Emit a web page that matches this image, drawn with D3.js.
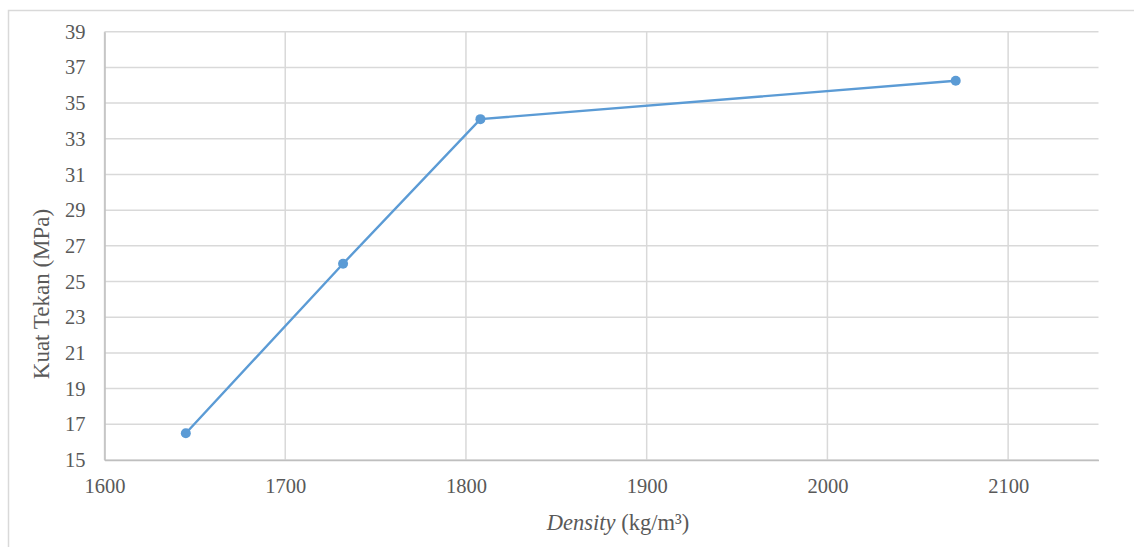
<!DOCTYPE html>
<html>
<head>
<meta charset="utf-8">
<script src="https://cdn.jsdelivr.net/npm/d3@7"></script>
<style>
  html, body { margin: 0; padding: 0; background: #fff; }
  svg { display: block; }
</style>
</head>
<body>
<svg id="chart" width="1134" height="547"></svg>
<script>
// Density (kg/m³) versus compressive strength (MPa)
const density = [1645, 1732, 1808, 2071];
const kuatTekan = [16.5, 26.0, 34.1, 36.25];
const xTicks = [1600, 1700, 1800, 1900, 2000, 2100];
const yTicks = [15, 17, 19, 21, 23, 25, 27, 29, 31, 33, 35, 37, 39];

const FONT = "'Liberation Serif', 'Times New Roman', serif";
const TEXT = "#595959";

const svg = d3.select("#chart");
const W = 1134, H = 547;
const margin = { left: 104.5, right: W - 1098.5, top: 31.7, bottom: H - 460 };

// outer chart frame
svg.append("rect")
  .attr("x", 8.5).attr("y", 10.5)
  .attr("width", 1140).attr("height", 560)
  .attr("fill", "#fff").attr("stroke", "#d9d9d9").attr("stroke-width", 1.5);

const x = d3.scaleLinear().domain([1600, 2150]).range([margin.left, W - margin.right]);
const y = d3.scaleLinear().domain([15, 39]).range([H - margin.bottom, margin.top]);

// gridlines
const grid = svg.append("g").attr("stroke", "#d9d9d9").attr("stroke-width", 1.5);
grid.selectAll("line.h").data(yTicks).join("line")
  .attr("x1", x(1600)).attr("x2", x(2150))
  .attr("y1", d => y(d)).attr("y2", d => y(d));
grid.selectAll("line.v").data(xTicks).join("line")
  .attr("x1", d => x(d)).attr("x2", d => x(d))
  .attr("y1", y(15)).attr("y2", y(39));

// axes
const xAxis = svg.append("g")
  .attr("transform", `translate(0,${y(15)})`)
  .call(d3.axisBottom(x).tickValues(xTicks).tickSize(0).tickPadding(18).tickFormat(d3.format("d")));
xAxis.select(".domain").attr("stroke", "#bfbfbf").attr("stroke-width", 1.5);

const yAxis = svg.append("g")
  .attr("transform", `translate(${x(1600)},0)`)
  .call(d3.axisLeft(y).tickValues(yTicks).tickSize(0).tickPadding(19).tickFormat(d3.format("d")));
yAxis.select(".domain").attr("stroke", "#bfbfbf").attr("stroke-width", 1.5);

[xAxis, yAxis].forEach(g => g.selectAll(".tick text")
  .style("font-family", FONT).style("font-size", "20.5px").style("fill", TEXT));

// series line and markers
const pts = density.map((d, i) => [d, kuatTekan[i]]);
svg.append("path")
  .datum(pts)
  .attr("fill", "none")
  .attr("stroke", "#5b9bd5")
  .attr("stroke-width", 2.4)
  .attr("d", d3.line().x(d => x(d[0])).y(d => y(d[1])));
svg.append("g").selectAll("circle").data(pts).join("circle")
  .attr("cx", d => x(d[0])).attr("cy", d => y(d[1]))
  .attr("r", 5).attr("fill", "#5b9bd5");

// axis titles
svg.append("text")
  .attr("transform", "translate(49,294) rotate(-90)")
  .attr("text-anchor", "middle")
  .style("font-family", FONT).style("font-size", "23px").style("fill", TEXT)
  .text("Kuat Tekan (MPa)");

const xt = svg.append("text")
  .attr("x", 618)
  .attr("y", 530)
  .attr("text-anchor", "middle")
  .style("font-family", FONT).style("font-size", "22.5px").style("fill", TEXT);
xt.append("tspan").style("font-style", "italic").text("Density");
xt.append("tspan").text(" (kg/m³)");
</script>
</body>
</html>
